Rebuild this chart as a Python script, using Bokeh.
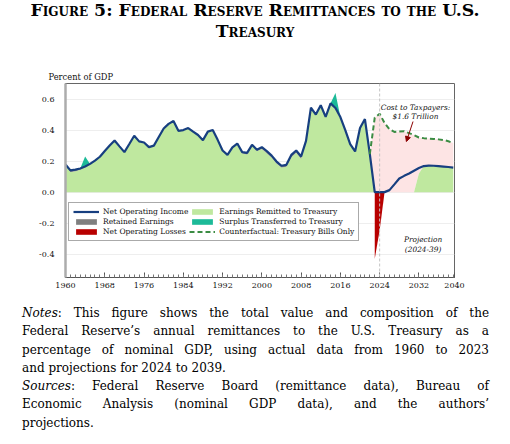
from bokeh.plotting import figure
from bokeh.models import (Legend, LegendItem, Label, Arrow, NormalHead, Span,
                          FixedTicker, CustomJSTickFormatter, Div)
from bokeh.layouts import column
from bokeh.embed import file_html
from bokeh.resources import INLINE

# ---------------------------------------------------------------- data
# Percent of nominal GDP
hist_years = list(range(1960, 2024))
proj_years = list(range(2024, 2040))

net_operating_income_hist = [
    0.178, 0.140, 0.145, 0.152, 0.165, 0.182, 0.203, 0.228, 0.265, 0.300,  # 1960s
    0.333, 0.295, 0.258, 0.310, 0.363, 0.327, 0.320, 0.290, 0.300, 0.355,  # 1970s
    0.410, 0.440, 0.458, 0.395, 0.400, 0.413, 0.390, 0.368, 0.335, 0.390,  # 1980s
    0.400, 0.337, 0.268, 0.240, 0.288, 0.313, 0.258, 0.253, 0.305, 0.273,  # 1990s
    0.290, 0.265, 0.235, 0.197, 0.170, 0.176, 0.240, 0.268, 0.230, 0.330,  # 2000s
    0.545, 0.500, 0.560, 0.485, 0.572, 0.542, 0.484, 0.400, 0.310, 0.262,  # 2010s
    0.413, 0.471, 0.245, 0.000,                                            # 2020-23
]
net_operating_income_proj = [
    0.000, 0.000, 0.013, 0.050, 0.088, 0.105, 0.120, 0.138,
    0.155, 0.168, 0.171, 0.170, 0.168, 0.165, 0.162, 0.158,
]

retained_earnings_hist = [
    0.000, 0.010, 0.010, 0.008, 0.000, 0.000, 0.000, 0.000, 0.000, 0.000,
    0.000, 0.000, 0.000, 0.000, 0.000, 0.000, 0.000, 0.000, 0.000, 0.000,
    0.000, 0.000, 0.000, 0.000, 0.000, 0.000, 0.000, 0.000, 0.000, 0.000,
    0.000, 0.000, 0.000, 0.000, 0.000, 0.000, 0.008, 0.010, 0.000, 0.008,
    0.012, 0.015, 0.012, 0.012, 0.012, 0.012, 0.015, 0.015, 0.015, 0.010,
    0.005, 0.000, 0.000, 0.000, 0.000, 0.000, 0.000, 0.000, 0.000, 0.000,
    0.000, 0.000, 0.000, 0.000,
]

earnings_remitted_hist = [
    0.178, 0.130, 0.135, 0.144, 0.165, 0.182, 0.203, 0.228, 0.265, 0.300,
    0.333, 0.295, 0.258, 0.310, 0.363, 0.327, 0.320, 0.290, 0.300, 0.355,
    0.410, 0.440, 0.458, 0.395, 0.400, 0.413, 0.390, 0.368, 0.335, 0.390,
    0.400, 0.337, 0.268, 0.240, 0.288, 0.313, 0.250, 0.243, 0.305, 0.265,
    0.278, 0.250, 0.223, 0.185, 0.158, 0.164, 0.225, 0.253, 0.215, 0.320,
    0.540, 0.500, 0.560, 0.485, 0.572, 0.542, 0.484, 0.400, 0.310, 0.262,
    0.413, 0.471, 0.245, 0.000,
]
earnings_remitted_proj = [
    0.000, 0.000, 0.000, 0.000, 0.000, 0.000, 0.000, 0.000,
    0.120, 0.168, 0.171, 0.170, 0.168, 0.165, 0.162, 0.158,
]

surplus_transferred_hist = [0.0] * 64
surplus_transferred_hist[1964 - 1960] = 0.065
surplus_transferred_hist[2015 - 1960] = 0.097

loss_years = [2023, 2024, 2025]
net_operating_losses = [-0.430, -0.245, 0.000]

counterfactual_years = list(range(2022, 2040))
counterfactual_tbills = [
    0.245, 0.480, 0.505, 0.445, 0.405, 0.388, 0.390, 0.392, 0.380,
    0.368, 0.352, 0.348, 0.345, 0.343, 0.340, 0.336, 0.328, 0.316,
]

x_major_ticks = [1960, 1968, 1976, 1984, 1992, 2000, 2008, 2016, 2024, 2032]
y_ticks = [-0.4, -0.2, 0.0, 0.2, 0.4, 0.6]

# ---------------------------------------------------------------- series assembly
years = hist_years + proj_years
net_operating_income = net_operating_income_hist + net_operating_income_proj
earnings_remitted = earnings_remitted_hist + earnings_remitted_proj
retained_top = [r + k for r, k in zip(earnings_remitted_hist, retained_earnings_hist)]
surplus_top = [t + s for t, s in zip(retained_top, surplus_transferred_hist)]
cf_floor = earnings_remitted[years.index(2022):]

SERIF = "DejaVu Serif"
X_END = 2039.25

# ---------------------------------------------------------------- figure
p = figure(width=510, height=240, x_range=(1960, X_END), y_range=(-0.55, 0.70),
           title="Percent of GDP",
           output_backend="svg", toolbar_location=None,
           min_border_left=65, min_border_right=56,
           min_border_top=23, min_border_bottom=23)
p.outline_line_color = "#666666"
p.outline_line_width = 1
p.background_fill_color = "white"
p.border_fill_color = "white"

p.title.align = "left"
p.title.offset = -17
p.title.standoff = 3
p.title.text_font = SERIF
p.title.text_font_style = "normal"
p.title.text_font_size = "8.3px"
p.title.text_color = "#111111"

r_cost = p.varea(x=counterfactual_years, y1=cf_floor, y2=counterfactual_tbills,
                 fill_color="#fde4e4")
r_remit = p.varea(x=years, y1=0, y2=earnings_remitted, fill_color="#bfe89f")
r_retain = p.varea(x=hist_years, y1=earnings_remitted_hist, y2=retained_top,
                   fill_color="#7f7f7f")
r_surplus = p.varea(x=hist_years, y1=retained_top, y2=surplus_top,
                    fill_color="#1cba98")
r_loss = p.varea(x=loss_years, y1=0, y2=net_operating_losses, fill_color="#b80000")

p.add_layout(Span(location=2024, dimension="height", line_color="#c4c4c4",
                  line_dash="3 2", line_width=1))

r_noi = p.line(years, net_operating_income, line_color="#173f80", line_width=2.2)
r_cf = p.line(counterfactual_years, counterfactual_tbills, line_color="#3b8c43",
              line_width=2, line_dash="5 3")

# ---------------------------------------------------------------- axes
p.xgrid.grid_line_color = None
p.ygrid.ticker = FixedTicker(ticks=y_ticks)
p.ygrid.grid_line_color = "#eeeeee"

xa = p.xaxis[0]
xa.ticker = FixedTicker(ticks=x_major_ticks + [X_END], minor_ticks=years)
xa.formatter = CustomJSTickFormatter(code="return tick > 2035 ? '2040' : tick.toFixed(0);")
xa.major_tick_in = 5
xa.major_tick_out = 0
xa.minor_tick_in = 3
xa.minor_tick_out = 0
xa.axis_line_color = "#555555"
xa.major_tick_line_color = "#555555"
xa.minor_tick_line_color = "#777777"
xa.major_label_standoff = 5
xa.major_label_text_font = SERIF
xa.major_label_text_font_size = "8px"
xa.major_label_text_color = "#111111"

ya = p.yaxis[0]
ya.ticker = FixedTicker(ticks=y_ticks)
ya.formatter = CustomJSTickFormatter(code="return tick.toFixed(1);")
ya.major_tick_line_color = None
ya.minor_tick_line_color = None
ya.axis_line_color = "#acacac"
ya.axis_line_width = 2.5
ya.major_label_standoff = 5
ya.major_label_text_font = SERIF
ya.major_label_text_font_size = "8px"
ya.major_label_text_color = "#111111"

# ---------------------------------------------------------------- annotations
p.add_layout(Label(x=2031.3, y=0.546, text="Cost to Taxpayers:", text_font=SERIF,
                   text_font_style="italic", text_font_size="7.4px",
                   text_align="center", text_baseline="middle", text_color="#111111"))
p.add_layout(Label(x=2031.3, y=0.488, text="$1.6 Trillion", text_font=SERIF,
                   text_font_style="italic", text_font_size="7.4px",
                   text_align="center", text_baseline="middle", text_color="#111111"))
p.add_layout(Arrow(end=NormalHead(size=5, fill_color="#8b0000", line_color="#8b0000"),
                   x_start=2030.8, y_start=0.455, x_end=2029.45, y_end=0.326,
                   line_color="#8b0000", line_width=1))
p.add_layout(Label(x=2032.85, y=-0.303, text="Projection", text_font=SERIF,
                   text_font_style="italic", text_font_size="7.4px",
                   text_align="center", text_baseline="middle", text_color="#111111"))
p.add_layout(Label(x=2032.85, y=-0.372, text="(2024-39)", text_font=SERIF,
                   text_font_style="italic", text_font_size="7.4px",
                   text_align="center", text_baseline="middle", text_color="#111111"))

legend = Legend(items=[
    LegendItem(label="Net Operating Income", renderers=[r_noi]),
    LegendItem(label="Retained Earnings", renderers=[r_retain]),
    LegendItem(label="Net Operating Losses", renderers=[r_loss]),
    LegendItem(label="Earnings Remitted to Treasury", renderers=[r_remit]),
    LegendItem(label="Surplus Transferred to Treasury", renderers=[r_surplus]),
    LegendItem(label="Counterfactual: Treasury Bills Only", renderers=[r_cf]),
], ncols=2, location=(3, 36))
legend.glyph_width = 26
legend.glyph_height = 7
legend.label_height = 7
legend.label_standoff = 4
legend.spacing = 1
legend.padding = 4
legend.margin = 0
legend.border_line_color = "#555555"
legend.border_line_width = 1
legend.background_fill_alpha = 1
legend.label_text_font = SERIF
legend.label_text_font_size = "7.5px"
legend.label_text_color = "#111111"
p.add_layout(legend)

# ---------------------------------------------------------------- title and notes
title = Div(width=510, height=60, margin=0, text=(
    '<div style="width:510px;text-align:center;font-family:\'DejaVu Serif\';'
    'font-weight:bold;font-variant:small-caps;font-size:17.3px;line-height:21px;'
    'padding-top:0px;color:#000;white-space:nowrap;">'
    'Figure 5: Federal Reserve Remittances to the U.S.<br>Treasury</div>'))

J = 'text-align:justify;text-align-last:justify;'
L = 'text-align:left;'
notes = Div(width=510, height=144, margin=0, text=(
    '<div style="font-family:\'DejaVu Serif\';font-size:12px;line-height:18.3px;'
    'color:#000;width:467px;margin-left:22px;padding-top:4px;">'
    f'<div style="{J}"><i>Notes</i>: This figure shows the total value and composition of the</div>'
    f'<div style="{J}">Federal Reserve\u2019s annual remittances to the U.S. Treasury as a</div>'
    f'<div style="{J}">percentage of nominal GDP, using actual data from 1960 to 2023</div>'
    f'<div style="{L}">and projections for 2024 to 2039.</div>'
    f'<div style="{J}"><i>Sources</i>: Federal Reserve Board (remittance data), Bureau of</div>'
    f'<div style="{J}">Economic Analysis (nominal GDP data), and the authors\u2019</div>'
    f'<div style="{L}">projections.</div>'
    '</div>'))

page = column(title, p, notes, spacing=0)
open("out.html", "w").write(file_html(page, INLINE))
